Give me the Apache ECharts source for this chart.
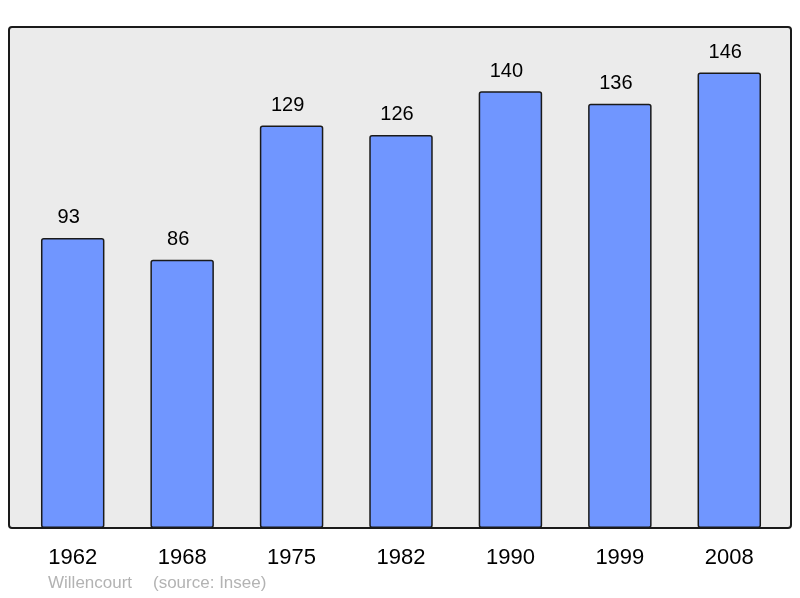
<!DOCTYPE html>
<html>
<head>
<meta charset="utf-8">
<script src="https://cdn.jsdelivr.net/npm/echarts@6/dist/echarts.min.js"></script>
<style>
  html, body { margin: 0; padding: 0; background: #fff; }
</style>
</head>
<body>
<div id="main" style="width: 800px; height: 598px"></div>
<script>
// données de population
var years = ["1962", "1968", "1975", "1982", "1990", "1999", "2008"];
var population = [93, 86, 129, 126, 140, 136, 146];
var commune = "Willencourt";
var source = "(source: Insee)";

var myChart = echarts.init(document.getElementById('main'));
var option = {
  animation: false,
  textStyle: { fontFamily: "Liberation Sans" },
  graphic: [
    {
      type: 'rect',
      z: -10,
      shape: { x: 9, y: 27, width: 782, height: 501, r: 3 },
      style: { fill: '#ebebeb', stroke: '#1a1a1a', lineWidth: 2 }
    },
    {
      type: 'text',
      left: 48, top: 575,
      style: { text: commune, fill: '#b3b3b3', font: '17px "Liberation Sans"' }
    },
    {
      type: 'text',
      left: 153, top: 575,
      style: { text: source, fill: '#b3b3b3', font: '17px "Liberation Sans"' }
    }
  ],
  grid: { left: 18, width: 766, top: 27, bottom: 70 },
  xAxis: {
    type: 'category',
    data: years,
    axisLine: { show: false },
    axisTick: { show: false },
    axisLabel: { color: '#000', fontSize: 22, margin: 19 }
  },
  yAxis: {
    type: 'value',
    min: 0,
    max: 160.6,
    show: false,
    splitLine: { show: false }
  },
  series: [
    {
      type: 'bar',
      data: population,
      barWidth: '58%',
      itemStyle: {
        color: '#7096ff',
        borderColor: '#1a1a1a',
        borderWidth: 1.5,
        borderRadius: 2
      },
      label: {
        show: true,
        position: 'top',
        distance: 10,
        offset: [-4, 0],
        color: '#000',
        fontSize: 20
      }
    }
  ]
};
myChart.setOption(option);
</script>
</body>
</html>
